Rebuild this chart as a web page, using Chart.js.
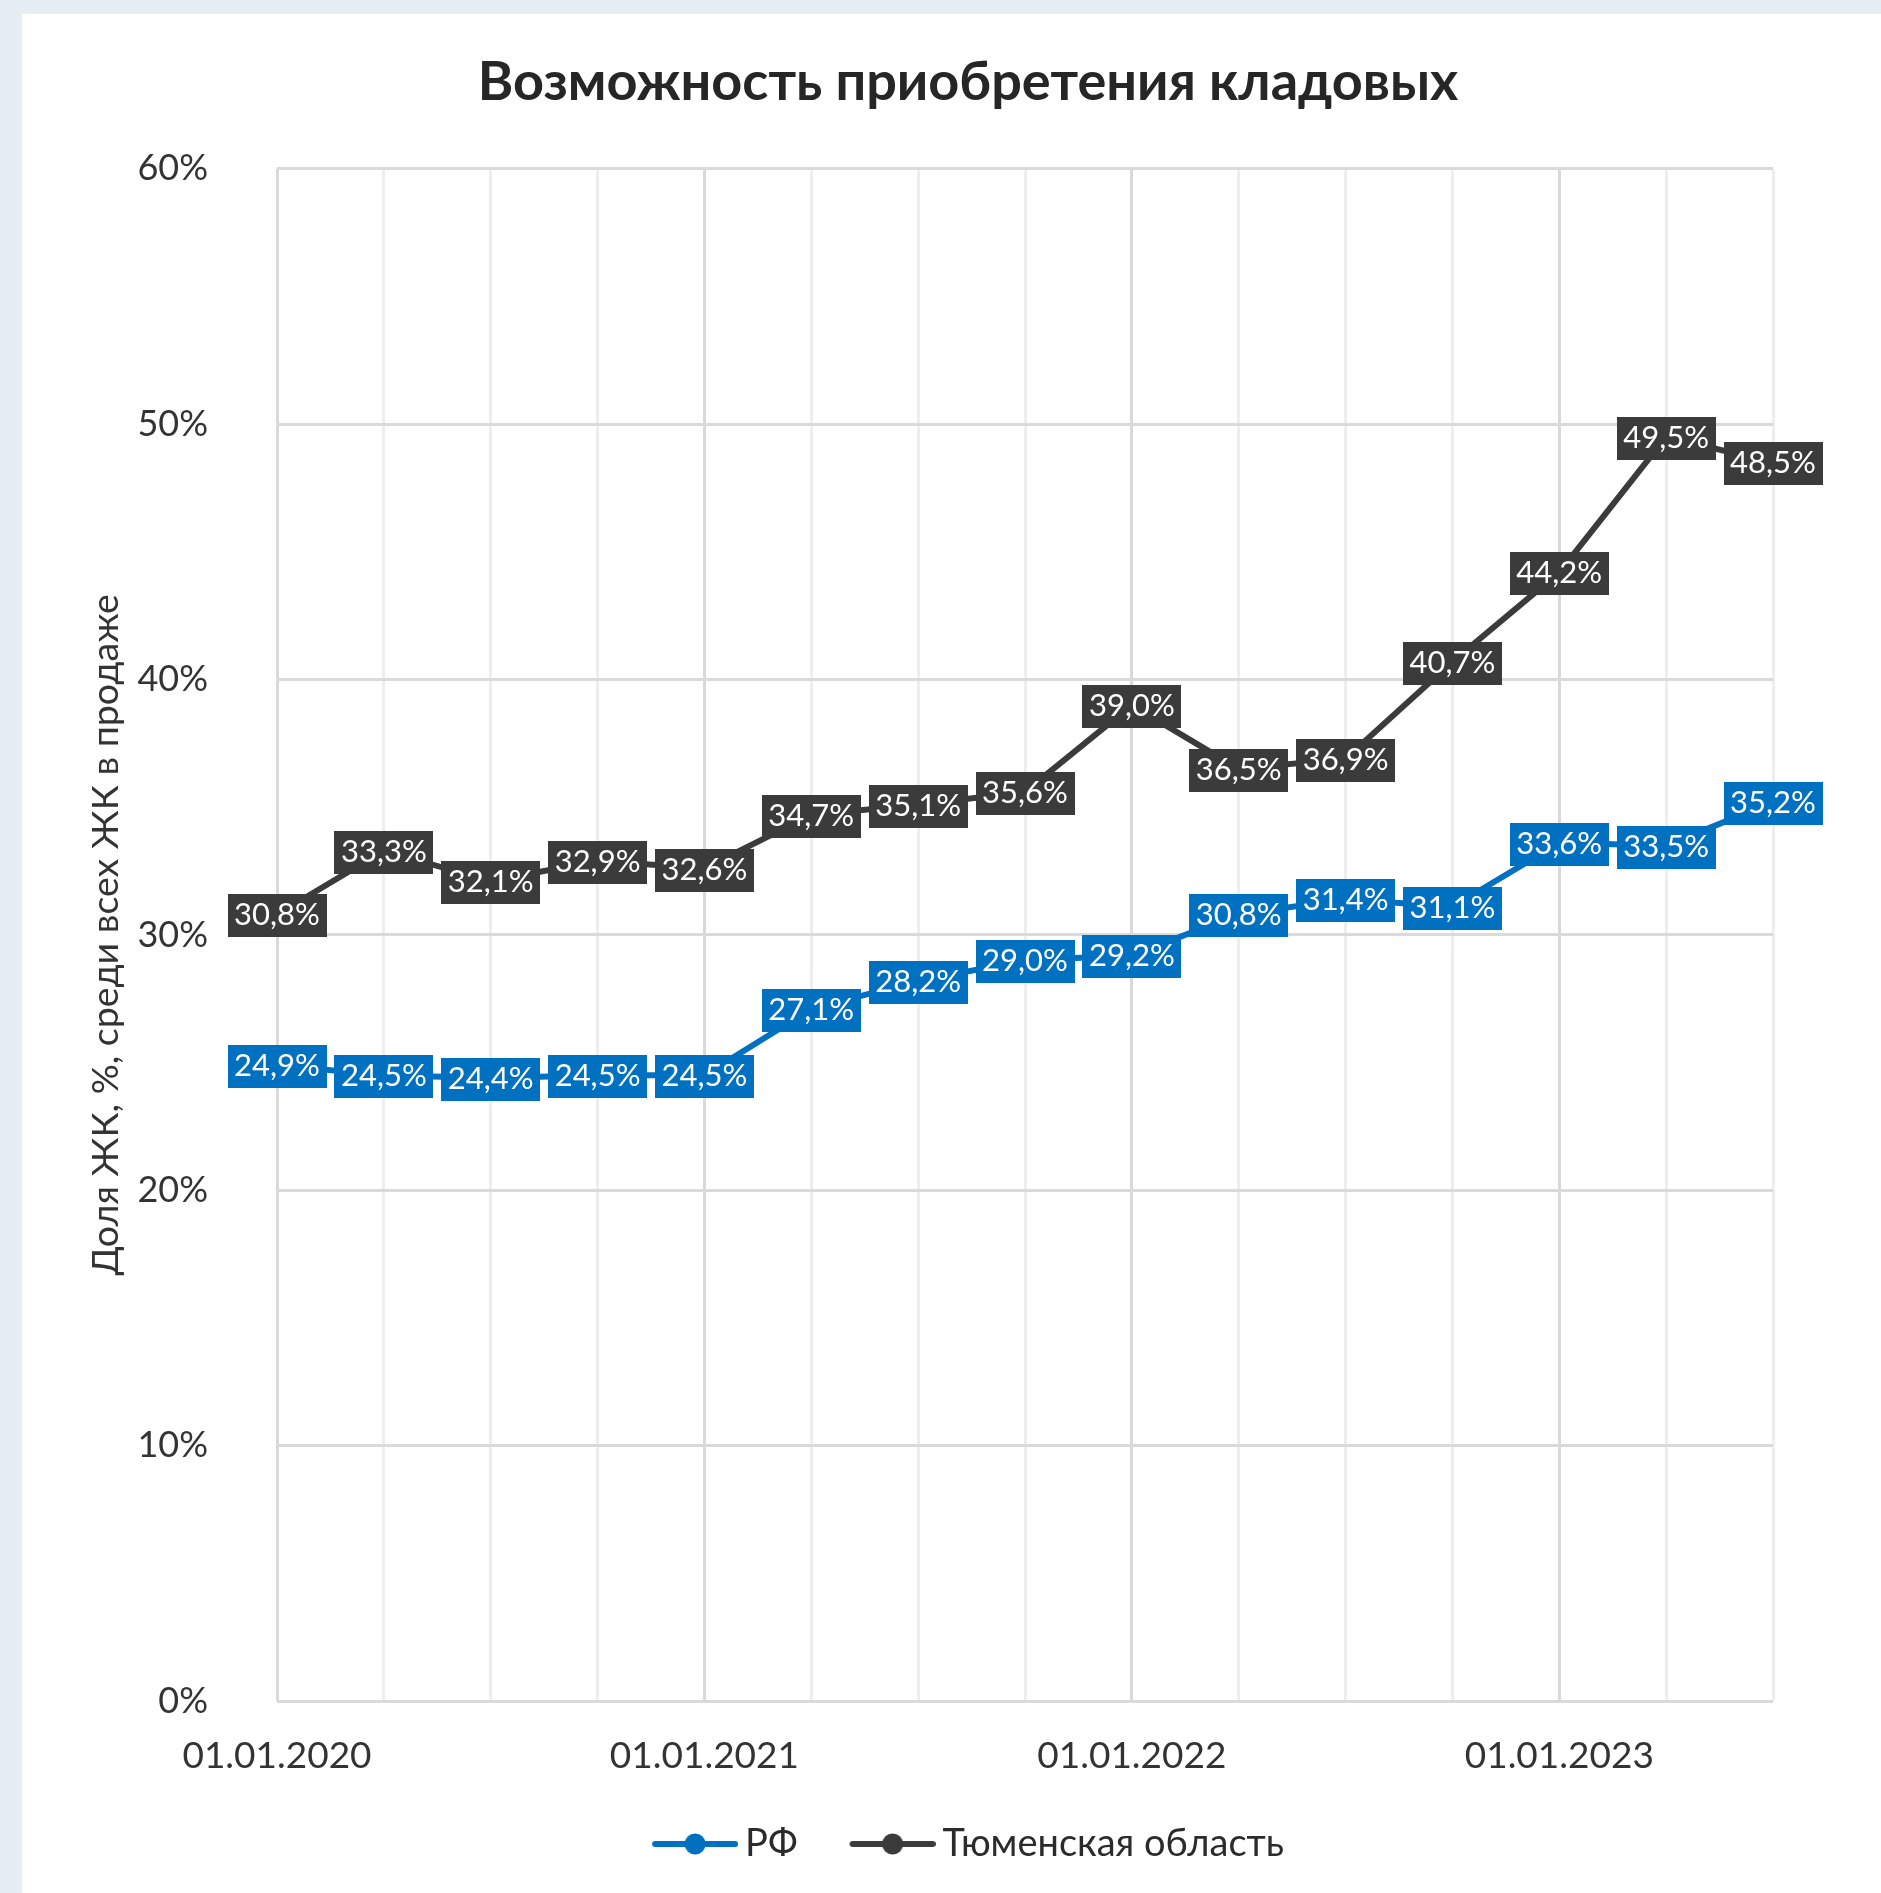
<!DOCTYPE html>
<html>
<head>
<meta charset="utf-8">
<script src="https://cdn.jsdelivr.net/npm/chart.js@4/dist/chart.umd.min.js"></script>
<style>
  html, body { margin: 0; padding: 0; background: #e7edf4; width: 1881px; height: 1893px; overflow: hidden; }
  #card { position: absolute; left: 22px; top: 14px; width: 1859px; height: 1879px; background: #ffffff; }
  canvas { display: block; }
</style>
</head>
<body>
<div id="card"><canvas id="c" width="1859" height="1879" style="width:1859px;height:1879px"></canvas></div>
<script>
const categories = ['01.01.2020','01.04.2020','01.07.2020','01.10.2020',
                    '01.01.2021','01.04.2021','01.07.2021','01.10.2021',
                    '01.01.2022','01.04.2022','01.07.2022','01.10.2022',
                    '01.01.2023','01.04.2023','01.07.2023'];
const rfValues = [24.9, 24.5, 24.4, 24.5, 24.5, 27.1, 28.2, 29.0, 29.2, 30.8, 31.4, 31.1, 33.6, 33.5, 35.2];
const tyumenValues = [30.8, 33.3, 32.1, 32.9, 32.6, 34.7, 35.1, 35.6, 39.0, 36.5, 36.9, 40.7, 44.2, 49.5, 48.5];
const yTicks = [0, 10, 20, 30, 40, 50, 60];
const seriesNames = ['РФ', 'Тюменская область'];

const BLUE = '#0070C0';
const DARK = '#3B3B3B';
const FONT = 'Lato, "Open Sans", sans-serif';

function legendSymbol(color) {
  const c = document.createElement('canvas');
  c.width = 98; c.height = 26;
  const g = c.getContext('2d');
  g.strokeStyle = color; g.lineWidth = 6; g.lineCap = 'round';
  g.beginPath(); g.moveTo(15, 13); g.lineTo(95, 13); g.stroke();
  g.fillStyle = color;
  g.beginPath(); g.arc(55, 13, 10.5, 0, Math.PI * 2); g.fill();
  return c;
}
const symbols = [legendSymbol(BLUE), legendSymbol(DARK)];

const dataLabels = {
  id: 'dataLabels',
  afterDatasetsDraw(chart) {
    const ctx = chart.ctx;
    ctx.save();
    ctx.font = '31px ' + FONT;
    ctx.textAlign = 'center';
    ctx.textBaseline = 'middle';
    chart.data.datasets.forEach((ds, di) => {
      const meta = chart.getDatasetMeta(di);
      meta.data.forEach((pt, i) => {
        const txt = ds.data[i].toFixed(1).replace('.', ',') + '%';
        const w = ctx.measureText(txt).width + 13;
        ctx.fillStyle = ds.borderColor;
        ctx.fillRect(Math.round(pt.x - w / 2), Math.round(pt.y - 20), Math.round(w), 43);
        ctx.fillStyle = '#ffffff';
        ctx.fillText(txt, pt.x, pt.y + 1);
      });
    });
    ctx.restore();
  }
};

new Chart(document.getElementById('c'), {
  type: 'line',
  data: {
    labels: categories,
    datasets: [
      { label: seriesNames[0], data: rfValues, borderColor: BLUE, backgroundColor: BLUE,
        borderWidth: 6, pointRadius: 7, pointBackgroundColor: BLUE, pointBorderWidth: 0, tension: 0 },
      { label: seriesNames[1], data: tyumenValues, borderColor: DARK, backgroundColor: DARK,
        borderWidth: 6, pointRadius: 7, pointBackgroundColor: DARK, pointBorderWidth: 0, tension: 0 }
    ]
  },
  options: {
    responsive: false,
    devicePixelRatio: 1,
    animation: false,
    layout: { padding: { left: 33, right: 0, top: 0, bottom: 20 } },
    plugins: {
      title: {
        display: true,
        text: 'Возможность приобретения кладовых',
        color: '#262626',
        font: { family: FONT, size: 54, weight: 'bold' },
        padding: { top: 36, bottom: 54 }
      },
      legend: {
        position: 'bottom',
        labels: {
          color: '#2b2b2b',
          font: { family: FONT, size: 38 },
          usePointStyle: true,
          pointStyleWidth: 74,
          padding: 52,
          generateLabels(chart) {
            return chart.data.datasets.map((ds, i) => ({
              text: ds.label, fillStyle: ds.borderColor, strokeStyle: ds.borderColor,
              lineWidth: 0, pointStyle: symbols[i], datasetIndex: i, hidden: false, fontColor: '#2b2b2b'
            }));
          }
        }
      },
      tooltip: { enabled: false }
    },
    scales: {
      x: {
        type: 'category',
        offset: false,
        grid: {
          drawTicks: false,
          lineWidth: 3,
          color: (c) => (c.index % 4 === 0 ? '#d9d9d9' : '#eeeeee')
        },
        border: { display: false },
        ticks: {
          autoSkip: false,
          maxRotation: 0,
          padding: 33,
          color: '#333333',
          font: { family: FONT, size: 37 },
          callback: function (v, i) { return i % 4 === 0 ? categories[i] : ''; }
        },
        afterFit(scale) { scale.height = 72; }
      },
      y: {
        min: 0, max: 60,
        afterBuildTicks(scale) { scale.ticks = yTicks.map(v => ({ value: v })); },
        grid: { drawTicks: false, lineWidth: 3, color: '#dadada' },
        border: { display: false },
        ticks: {
          padding: 69,
          color: '#333333',
          font: { family: FONT, size: 36 },
          callback: (v) => v + '%'
        },
        title: {
          display: true,
          text: 'Доля ЖК, %, среди всех ЖК в продаже',
          color: '#333333',
          font: { family: FONT, size: 37.5 },
          padding: { top: 28, bottom: 0 }
        },
        afterFit(scale) { scale.width = 222; }
      },
      yRight: {
        position: 'right',
        display: true,
        grid: { display: false, drawTicks: false },
        border: { display: false },
        ticks: { display: false },
        afterFit(scale) { scale.width = 108; }
      }
    }
  },
  plugins: [dataLabels]
});
</script>
</body>
</html>
